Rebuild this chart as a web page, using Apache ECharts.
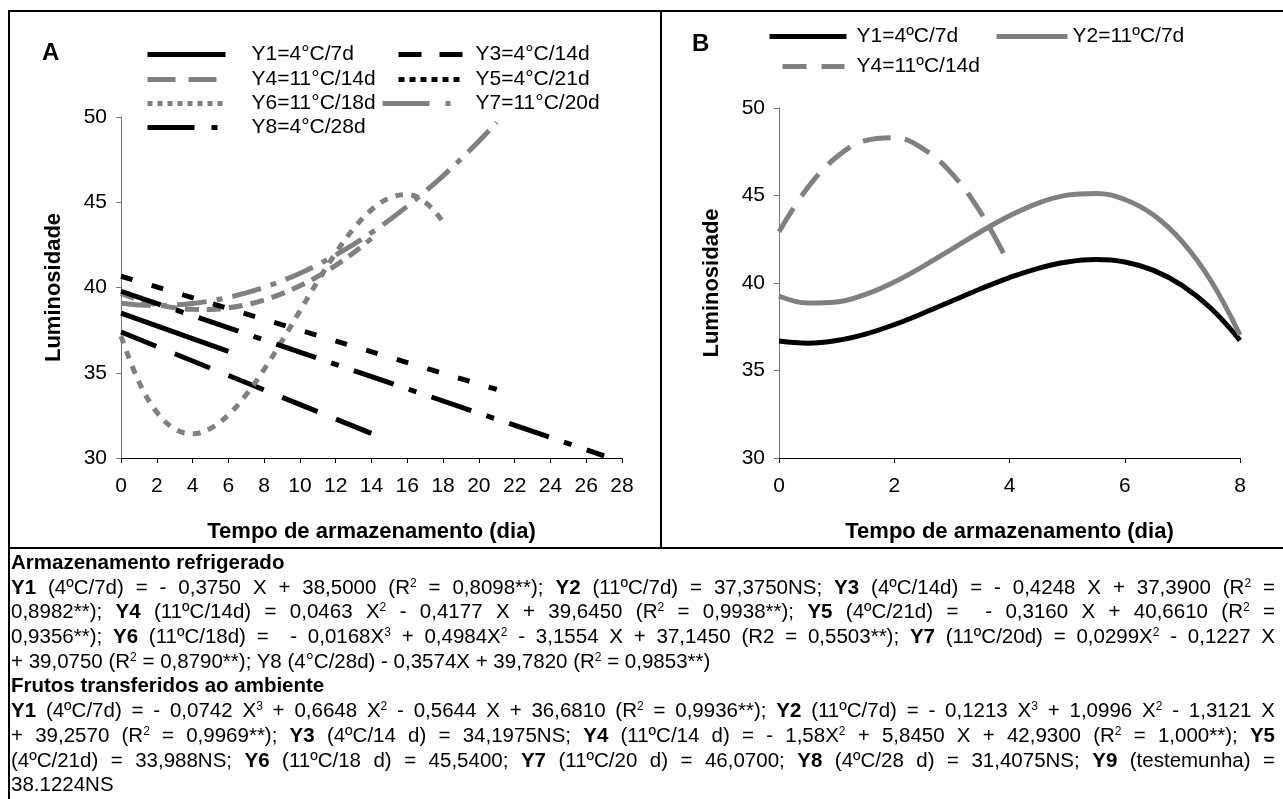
<!DOCTYPE html>
<html>
<head>
<meta charset="utf-8">
<script src="https://cdn.jsdelivr.net/npm/echarts@6/dist/echarts.min.js"></script>
<style>
html,body{margin:0;padding:0;background:#fff;}
body{width:1283px;height:799px;position:relative;overflow:hidden;font-family:"Liberation Sans",Arial,sans-serif;}
#chart{position:absolute;left:0;top:0;width:1283px;height:799px;}
.ln{position:absolute;background:#000;}
#txt{position:absolute;left:11px;width:1264px;top:550px;font-size:20.5px;color:#000;}
#txt div{height:24.7px;line-height:24.7px;white-space:nowrap;}
#txt .j{text-align:justify;text-align-last:justify;white-space:normal;}
#txt sup{font-size:12px;line-height:0;vertical-align:7px;}
</style>
</head>
<body>
<div id="chart"></div>
<div class="ln" style="left:8px;top:10px;width:1275px;height:2px;"></div>
<div class="ln" style="left:8px;top:10px;width:2px;height:789px;"></div>
<div class="ln" style="left:660px;top:10px;width:2px;height:538px;"></div>
<div class="ln" style="left:8px;top:547px;width:1275px;height:2px;"></div>
<div id="txt">
<div><b>Armazenamento refrigerado</b></div>
<div class="j"><b>Y1</b> (4ºC/7d) = - 0,3750 X + 38,5000 (R<sup>2</sup> = 0,8098**); <b>Y2</b> (11ºC/7d) = 37,3750NS; <b>Y3</b> (4ºC/14d) = - 0,4248 X + 37,3900 (R<sup>2</sup> =</div>
<div class="j">0,8982**); <b>Y4</b> (11ºC/14d) = 0,0463 X<sup>2</sup> - 0,4177 X + 39,6450 (R<sup>2</sup> = 0,9938**); <b>Y5</b> (4ºC/21d) = &nbsp;- 0,3160 X + 40,6610 (R<sup>2</sup> =</div>
<div class="j">0,9356**); <b>Y6</b> (11ºC/18d) = &nbsp;- 0,0168X<sup>3</sup> + 0,4984X<sup>2</sup> - 3,1554 X + 37,1450 (R2 = 0,5503**); <b>Y7</b> (11ºC/20d) = 0,0299X<sup>2</sup> - 0,1227 X</div>
<div>+ 39,0750 (R<sup>2</sup> = 0,8790**); Y8 (4°C/28d) - 0,3574X + 39,7820 (R<sup>2</sup> = 0,9853**)</div>
<div><b>Frutos transferidos ao ambiente</b></div>
<div class="j"><b>Y1</b> (4ºC/7d) = - 0,0742 X<sup>3</sup> + 0,6648 X<sup>2</sup> - 0,5644 X + 36,6810 (R<sup>2</sup> = 0,9936**); <b>Y2</b> (11ºC/7d) = - 0,1213 X<sup>3</sup> + 1,0996 X<sup>2</sup> - 1,3121 X</div>
<div class="j">+ 39,2570 (R<sup>2</sup> = 0,9969**); <b>Y3</b> (4ºC/14 d) = 34,1975NS; <b>Y4</b> (11ºC/14 d) = - 1,58X<sup>2</sup> + 5,8450 X + 42,9300 (R<sup>2</sup> = 1,000**); <b>Y5</b></div>
<div class="j">(4ºC/21d) = 33,988NS; <b>Y6</b> (11ºC/18 d) = 45,5400; <b>Y7</b> (11ºC/20 d) = 46,0700; <b>Y8</b> (4ºC/28 d) = 31,4075NS; <b>Y9</b> (testemunha) =</div>
<div>38.1224NS</div>
</div>
<script>
// ---------- Panel A data (refrigerated storage) ----------
const y1Days = [0, 6];
const y1Vals = [38.50, 36.25];
const y3Days = [0, 14];
const y3Vals = [37.39, 31.44];
const y5Days = [0, 21];
const y5Vals = [40.66, 34.02];
const y8Days = [0, 27];
const y8Vals = [39.78, 30.13];
const y4Days = [0,1,2,3,4,5,6,7,8,9,10,11,12,13,14];
const y4Vals = [39.65,39.27,39.00,38.81,38.72,38.71,38.81,38.99,39.27,39.64,40.10,40.65,41.30,42.04,42.87];
const y6Days = [0,1,2,3,4,5,6,7,8,9,10,11,12,13,14,15,16,17,18];
const y6Vals = [37.15,34.47,32.69,31.71,31.42,31.73,32.53,33.72,35.20,36.87,38.63,40.38,42.02,43.45,44.56,45.25,45.44,45.00,43.85];
const y7Days = [0,1,2,3,4,5,6,7,8,9,10,11,12,13,14,15,16,17,18,19,20,21];
const y7Vals = [39.08,38.98,38.95,38.98,39.06,39.21,39.42,39.68,40.01,40.39,40.84,41.34,41.91,42.53,43.22,43.96,44.77,45.63,46.55,47.54,48.58,49.68];
const labelsA = [['Y1',7.43,36.39],['Y3',15.47,31.35],['Y4',13.35,40.73],['Y5',21.17,34.75],['Y6',4.86,31.76],['Y7',17.93,47.3],['Y8',25.59,31.35]];
const namesA = {y1:'Y1=4°C/7d', y3:'Y3=4°C/14d', y4:'Y4=11°C/14d', y5:'Y5=4°C/21d', y6:'Y6=11°C/18d', y7:'Y7=11°C/20d', y8:'Y8=4°C/28d'};
const xTicksA = [0, 28, 2];
const yTicks = [30, 50, 5];

// ---------- Panel B data (fruits moved to ambient) ----------
const bDays = [0,0.5,1,1.5,2,2.5,3,3.5,4,4.5,5,5.5,6,6.5,7,7.5,8];
const bY1 = [36.68,36.56,36.71,37.08,37.62,38.27,38.97,39.67,40.31,40.84,41.20,41.34,41.20,40.72,39.85,38.54,36.72];
const bY2 = [39.26,38.86,38.92,39.35,40.06,40.95,41.94,42.93,43.84,44.57,45.02,45.12,44.77,43.88,42.35,40.10,37.03];
const bY4Days = [0,0.5,1,1.5,2,2.5,3,3.5,4];
const bY4 = [42.93,45.46,47.20,48.14,48.30,47.67,46.25,44.03,41.03];
const labelsB = [['Y4',3.47,46.0],['Y2',7.77,41.05],['Y1',7.36,38.1]];
const namesB = {y1:'Y1=4ºC/7d', y2:'Y2=11ºC/7d', y4:'Y4=11ºC/14d'};
const xTicksB = [0, 8, 2];

const GRAY = '#808080';
const FONT = '"Liberation Sans", Arial, sans-serif';
const pairs = (xs, ys) => xs.map((x, i) => [x, ys[i]]);

function lineSeries(name, xs, ys, idx, color, type, width, smooth) {
  return {
    name: name, type: 'line', xAxisIndex: idx, yAxisIndex: idx,
    data: pairs(xs, ys), symbol: 'none', showSymbol: false, smooth: smooth ? 0.4 : false,
    lineStyle: {color: color, width: width, type: type, cap: 'butt'},
    itemStyle: {color: color}, z: 3, silent: true, animation: false
  };
}
function labelSeries(list, idx) {
  return {
    type: 'scatter', xAxisIndex: idx, yAxisIndex: idx, symbolSize: 1,
    itemStyle: {opacity: 0}, silent: true, animation: false, z: 5,
    data: list.map(l => [l[1], l[2], l[0]]),
    label: {show: true, position: 'inside', formatter: p => p.data[2], fontSize: 21, color: '#000', fontFamily: FONT}
  };
}
function leg(name, left, rowY, w, gap, dash) {
  const ls = {width: 5};
  if (dash) ls.type = dash;
  return {
    data: [name], left: left, top: rowY - 11, itemWidth: w, itemHeight: 20,
    selectedMode: false, padding: 0,
    itemStyle: {opacity: 0},
    lineStyle: ls,
    textStyle: {fontSize: 21, color: '#000', fontFamily: FONT, padding: [0, 0, 0, Math.max(gap - 5, 0)]}
  };
}
function axisX(idx, t, title) {
  return {
    gridIndex: idx, type: 'value', min: t[0], max: t[1], interval: t[2],
    axisLine: {lineStyle: {color: '#000', width: 1}},
    axisTick: {length: 5, lineStyle: {color: '#000'}},
    axisLabel: {fontSize: 21, color: '#000', margin: 18, fontFamily: FONT},
    splitLine: {show: false},
    name: title, nameLocation: 'middle', nameGap: 63,
    nameTextStyle: {fontSize: 22, fontWeight: 'bold', color: '#000', fontFamily: FONT}
  };
}
function axisY(idx, gap) {
  return {
    gridIndex: idx, type: 'value', min: yTicks[0], max: yTicks[1], interval: yTicks[2],
    axisLine: {show: true, lineStyle: {color: '#777', width: 1}},
    axisTick: {show: true, length: 5, lineStyle: {color: '#777'}},
    axisLabel: {fontSize: 21, color: '#000', margin: 14, fontFamily: FONT},
    splitLine: {show: false},
    name: 'Luminosidade', nameLocation: 'middle', nameGap: gap,
    nameTextStyle: {fontSize: 22, fontWeight: 'bold', color: '#000', fontFamily: FONT}
  };
}

const chart = echarts.init(document.getElementById('chart'), null, {renderer: 'canvas'});
chart.setOption({
  animation: false,
  backgroundColor: 'transparent',
  textStyle: {fontFamily: FONT},
  grid: [
    {left: 121, top: 117, width: 501, height: 341},
    {left: 779, top: 108, width: 461, height: 350}
  ],
  xAxis: [axisX(0, xTicksA, 'Tempo de armazenamento (dia)'), axisX(1, xTicksB, 'Tempo de armazenamento (dia)')],
  yAxis: [axisY(0, 56), axisY(1, 56)],
  legend: [
    leg(namesA.y1, 145, 55, 78, 26),
    leg(namesA.y4, 145, 80, 78, 26, [28, 13]),
    leg(namesA.y6, 145, 104, 78, 26, [5, 5]),
    leg(namesA.y8, 145, 128, 78, 26, [47, 17, 6, 17]),
    leg(namesA.y3, 396, 55, 66, 11, [23, 18]),
    leg(namesA.y5, 396, 80, 66, 11, [6, 5]),
    leg(namesA.y7, 380, 104, 82, 11, [47, 16, 5, 16]),
    leg(namesB.y1, 767, 37, 77, 10),
    leg(namesB.y2, 994, 37, 71, 2),
    leg(namesB.y4, 780, 67, 62, 12, [24, 15])
  ],
  graphic: [
    {type: 'text', left: 42, top: 41, style: {text: 'A', fontSize: 24, fontWeight: 'bold', fill: '#000', fontFamily: FONT}},
    {type: 'text', left: 692, top: 32, style: {text: 'B', fontSize: 24, fontWeight: 'bold', fill: '#000', fontFamily: FONT}}
  ],
  series: [
    lineSeries(namesA.y1, y1Days, y1Vals, 0, '#000', 'solid', 5, false),
    lineSeries(namesA.y3, y3Days, y3Vals, 0, '#000', [38, 20], 5, false),
    lineSeries(namesA.y4, y4Days, y4Vals, 0, GRAY, [14, 8], 5, true),
    lineSeries(namesA.y5, y5Days, y5Vals, 0, '#000', [12, 20], 5, false),
    lineSeries(namesA.y6, y6Days, y6Vals, 0, GRAY, [8, 8], 5, true),
    lineSeries(namesA.y7, y7Days, y7Vals, 0, GRAY, [30, 10, 6, 10], 5, true),
    lineSeries(namesA.y8, y8Days, y8Vals, 0, '#000', [42, 16, 8, 16], 5, false),
    labelSeries(labelsA, 0),
    lineSeries(namesB.y1, bDays, bY1, 1, '#000', 'solid', 5, true),
    lineSeries(namesB.y2, bDays, bY2, 1, GRAY, 'solid', 5, true),
    lineSeries(namesB.y4, bY4Days, bY4, 1, GRAY, [28, 14], 5, true),
    labelSeries(labelsB, 1)
  ]
});
</script>
</body>
</html>
